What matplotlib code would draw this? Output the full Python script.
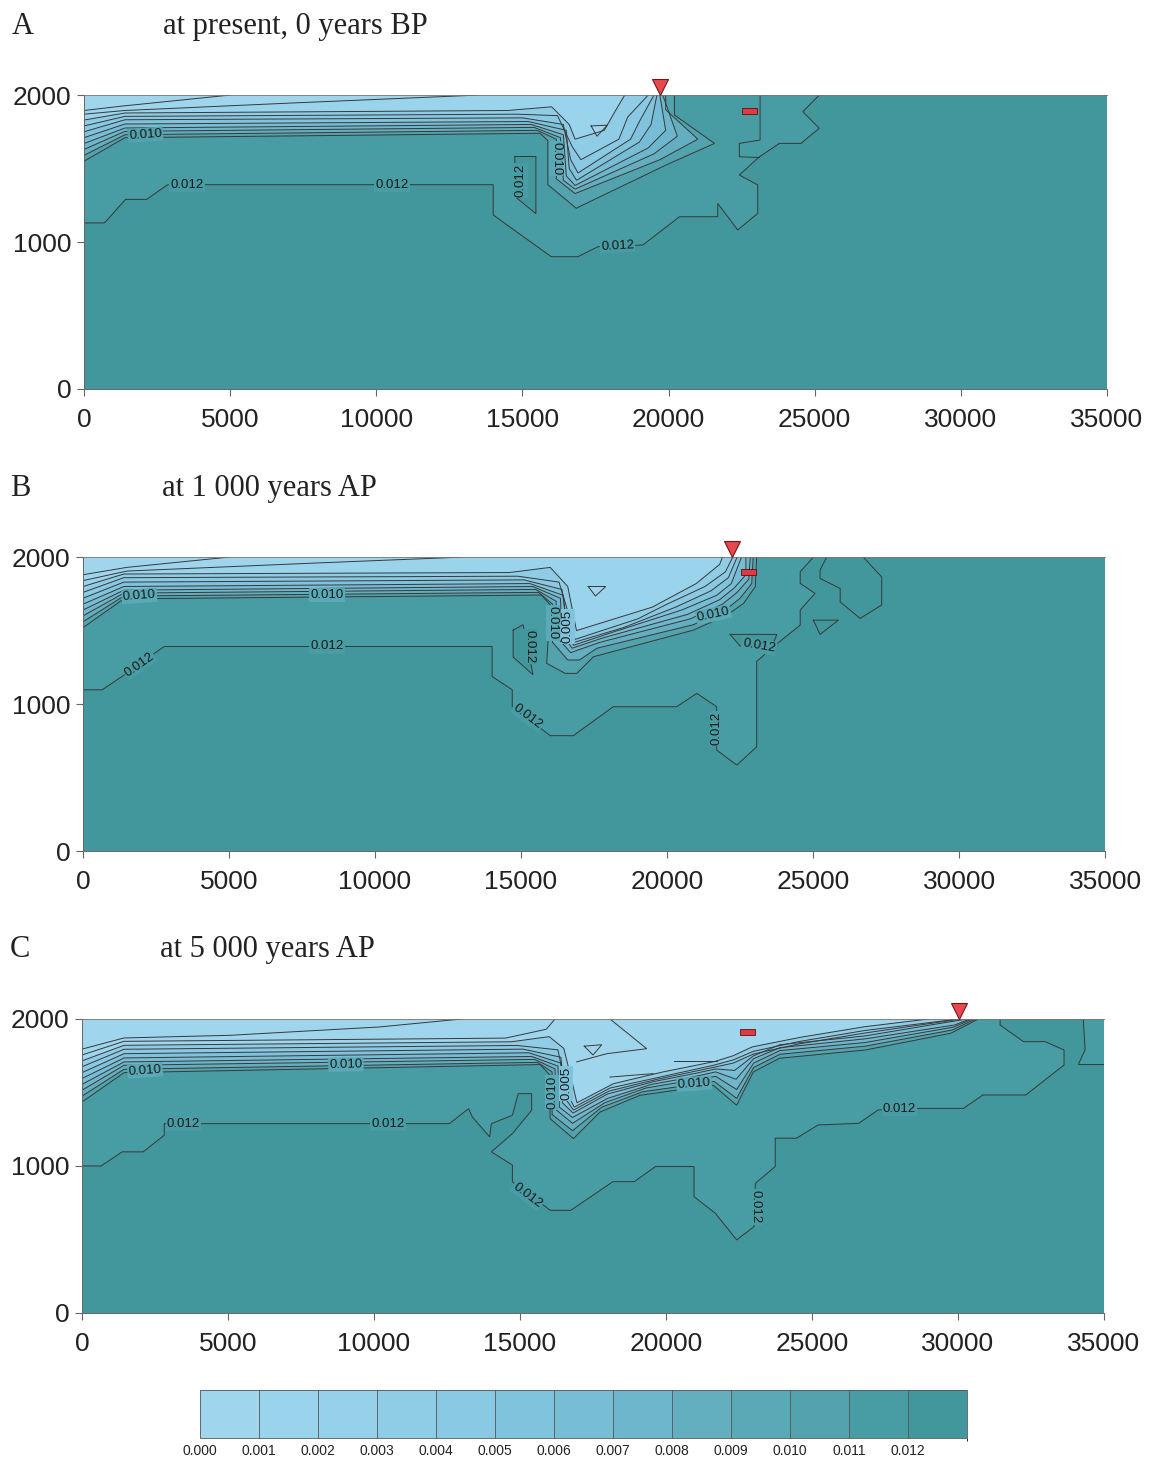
import matplotlib.pyplot as plt
from matplotlib.colors import ListedColormap, BoundaryNorm
from matplotlib.cm import ScalarMappable
from matplotlib.patches import Rectangle

plt.rcParams['font.family'] = ['Liberation Sans', 'DejaVu Sans']

# colour scale (intervals of 0.001)
cb_bounds = [0.000, 0.001, 0.002, 0.003, 0.004, 0.005, 0.006, 0.007,
             0.008, 0.009, 0.010, 0.011, 0.012, 0.013]
cb_ticks = cb_bounds[:-1]
cb_colors = ['#9fd6ee', '#9ad4ec', '#95d1ea', '#8fcde6', '#89c9e3', '#80c3dd',
             '#77bdd5', '#6db6cb', '#63afc0', '#5aa9b6', '#52a3ad', '#489ca3',
             '#41979b']

x_ticks = [0, 5000, 10000, 15000, 20000, 25000, 30000, 35000]
y_ticks = [0, 1000, 2000]

letters = ['A', 'B', 'C']
titles = ['at present, 0 years BP', 'at 1 000 years AP', 'at 5 000 years AP']

# ---------------- panel A ----------------
a_012 = [(0, 1130), (700, 1130), (1420, 1290), (2140, 1290), (2860, 1390), (14000, 1390),
         (14000, 1184), (15985, 900), (16895, 900), (17580, 968), (19120, 980),
         (20370, 1172), (21680, 1172), (21680, 1263), (22365, 1082), (23050, 1195),
         (23050, 1388), (22420, 1456), (23105, 1580), (23790, 1671), (24530, 1671),
         (25155, 1774), (24590, 1887), (25155, 2000)]
a_012_closed = [[(14740, 1582), (15460, 1582), (15460, 1193), (14740, 1310), (14740, 1582)]]
a_012_open = [[(23130, 2000), (23130, 1694), (22420, 1671), (22420, 1580), (23105, 1575)]]
a_bands = [
    [(0, 1550), (1400, 1710), (15600, 1740), (15870, 1690), (15870, 1390), (16840, 1230),
     (19910, 1524), (21570, 1671), (20200, 1864), (20200, 2000)],
    [(0, 1590), (1400, 1730), (15500, 1760), (16160, 1700), (16160, 1430), (16800, 1330),
     (19700, 1560), (21000, 1700), (19900, 1900), (19900, 2000)],
    [(0, 1630), (1400, 1753), (15400, 1780), (16300, 1710), (16400, 1420), (16800, 1360),
     (19500, 1600), (20300, 1720), (19800, 2000)],
    [(0, 1670), (1400, 1776), (15300, 1800), (16400, 1730), (16500, 1450), (16800, 1385),
     (19300, 1640), (19900, 1760), (19700, 2000)],
    [(0, 1710), (1400, 1803), (15200, 1820), (16500, 1760), (16600, 1500), (16850, 1420),
     (19000, 1680), (19400, 1800), (19600, 2000)],
    [(0, 1750), (1400, 1832), (15000, 1845), (16400, 1800), (16650, 1560), (16900, 1470),
     (18700, 1700), (19000, 1820), (19500, 2000)],
    [(0, 1790), (1400, 1855), (14800, 1870), (16200, 1860), (16700, 1650), (17000, 1560),
     (18300, 1700), (18600, 1850), (19300, 2000)],
    [(0, 1830), (1400, 1878), (14500, 1895), (16000, 1920), (16600, 1800), (16800, 1700),
     (17800, 1760), (18200, 1900), (18500, 2000)],
    [(0, 1870), (1400, 1895), (7000, 1945), (13500, 2000)],
    [(0, 1895), (1300, 1925), (5000, 2000)],
]
a_levels = [0.011, 0.009, 0.008, 0.007, 0.006, 0.005, 0.004, 0.002, 0.001, 0.001]
a_loops = [[(17350, 1790), (17900, 1795), (17550, 1720), (17350, 1790)]]
a_frags = []
a_labels = [('0.010', 2100, 1730, 4, 10), ('0.012', 3520, 1390, 0, 11),
            ('0.012', 10540, 1390, 0, 11), ('0.012', 14950, 1420, 90, 11),
            ('0.010', 16160, 1570, -90, 9), ('0.012', 18250, 975, 3, 11)]
a_tri_x = 19690
a_box = (22780, 1890)

# ---------------- panel B ----------------
b_012 = [(0, 1097), (655, 1097), (1337, 1188), (2780, 1392), (14010, 1392), (14010, 1188),
         (14700, 1097), (14700, 983), (16000, 785), (16790, 785), (18160, 982), (20330, 982),
         (21020, 1073), (21700, 982), (21700, 687), (22390, 585), (23070, 709), (23070, 1290),
         (23760, 1410), (24560, 1537), (24560, 1640), (25070, 1753), (24560, 1821),
         (24560, 1900), (25010, 2000)]
b_012_closed = [[(14730, 1503), (15070, 1540), (15410, 1200), (14730, 1320), (14730, 1503)],
                [(22160, 1474), (23760, 1474), (23590, 1385), (22500, 1395), (22160, 1474)],
                [(25010, 1571), (25870, 1571), (25240, 1474), (25010, 1571)],
                [(25470, 2000), (25240, 1912), (25240, 1855), (25930, 1786), (25930, 1695),
                 (26610, 1583), (27350, 1674), (27350, 1865), (26720, 2000)]]
b_012_open = []
b_bands = [
    [(0, 1520), (1400, 1716), (15700, 1742), (16000, 1674), (15880, 1277), (16510, 1209),
     (16910, 1209), (17480, 1322), (20900, 1503), (22050, 1605), (22620, 1685),
     (23020, 1798), (23070, 2000)],
    [(0, 1560), (1400, 1735), (15600, 1760), (16080, 1680), (16080, 1420), (16600, 1300),
     (17000, 1300), (17600, 1380), (20900, 1540), (22000, 1640), (22500, 1720),
     (22900, 1820), (22950, 2000)],
    [(0, 1600), (1400, 1755), (15500, 1780), (16200, 1700), (16250, 1450), (16700, 1350),
     (17700, 1420), (20800, 1580), (21900, 1680), (22400, 1760), (22800, 1850), (22850, 2000)],
    [(0, 1640), (1400, 1775), (15400, 1800), (16350, 1720), (16400, 1480), (16750, 1380),
     (17800, 1450), (20700, 1610), (21800, 1710), (22300, 1790), (22700, 1880), (22700, 2000)],
    [(0, 1680), (1400, 1800), (15300, 1820), (16450, 1740), (16550, 1500), (16800, 1400),
     (18000, 1480), (20500, 1640), (21700, 1740), (22200, 1820), (22550, 2000)],
    [(0, 1720), (1400, 1830), (15100, 1845), (16400, 1780), (16600, 1520), (16820, 1420),
     (18500, 1520), (20300, 1660), (21500, 1770), (22100, 1860), (22400, 2000)],
    [(0, 1760), (1400, 1860), (14900, 1870), (16300, 1830), (16650, 1600), (16850, 1440),
     (19000, 1580), (20000, 1680), (21300, 1800), (22000, 1900), (22250, 2000)],
    [(0, 1800), (1400, 1885), (14600, 1895), (16000, 1930), (16600, 1800), (16900, 1500),
     (19500, 1660), (21000, 1820), (21800, 1950), (21900, 2000)],
    [(0, 1840), (1500, 1905), (8000, 1960), (13000, 2000)],
    [(0, 1880), (1500, 1930), (5000, 2000)],
]
b_levels = [0.011, 0.009, 0.008, 0.007, 0.006, 0.005, 0.004, 0.002, 0.001, 0.001]
b_loops = [[(17300, 1800), (17900, 1800), (17550, 1735), (17300, 1800)]]
b_frags = []
b_labels = [('0.010', 1930, 1735, 4, 9), ('0.010', 8350, 1745, 0, 9),
            ('0.012', 1930, 1267, 35, 11), ('0.012', 8350, 1392, 0, 11),
            ('0.012', 15230, 915, -37, 11), ('0.012', 15300, 1390, -90, 12),
            ('0.010', 16080, 1552, -90, 9), ('0.005', 16600, 1529, 90, 5),
            ('0.010', 21590, 1610, 12, 9), ('0.012', 23150, 1395, -10, 11),
            ('0.012', 21700, 835, 90, 11)]
b_tri_x = 22230
b_box = (22780, 1900)

# ---------------- panel C ----------------
c_012 = [(0, 1000), (655, 1000), (1376, 1096), (2097, 1096), (2818, 1209), (2818, 1288),
         (12580, 1288), (13240, 1390), (13370, 1333), (13960, 1198), (14020, 1288),
         (14740, 1345), (14940, 1492), (15400, 1492), (15400, 1379), (14740, 1220),
         (14020, 1096), (14740, 1006), (14740, 893), (16040, 698), (16740, 698), (18180, 893),
         (18910, 893), (19640, 996), (20960, 996), (20960, 791), (21690, 678), (22420, 497),
         (23010, 587), (23060, 882), (23740, 996), (23740, 1189), (24470, 1189), (25210, 1279),
         (26600, 1290), (27260, 1381), (28720, 1392), (30190, 1392), (30850, 1483),
         (32320, 1483), (33630, 1687), (33630, 1789), (32980, 1846), (32240, 1846),
         (31440, 1959), (31440, 2000)]
c_side = [(34290, 2000), (34350, 1790), (34120, 1690), (35000, 1690)]
c_bands = [
    [(0, 1435), (1440, 1635), (15690, 1690), (16030, 1617), (16030, 1322), (16830, 1186),
     (17740, 1367), (19110, 1481), (20710, 1526), (21620, 1549), (22420, 1413), (22990, 1640),
     (23890, 1733), (26820, 1789), (29750, 1903), (30700, 2000)],
    [(0, 1475), (1440, 1658), (15600, 1705), (16100, 1640), (16100, 1350), (16800, 1240),
     (17800, 1400), (19200, 1505), (20800, 1550), (21650, 1575), (22420, 1460), (23000, 1670),
     (23900, 1760), (26820, 1815), (29800, 1925), (30600, 2000)],
    [(0, 1515), (1440, 1685), (15500, 1725), (16200, 1660), (16250, 1380), (16800, 1290),
     (17900, 1430), (19300, 1530), (20800, 1580), (21700, 1610), (22420, 1520), (23000, 1700),
     (23900, 1785), (26820, 1840), (29850, 1945), (30500, 2000)],
    [(0, 1555), (1440, 1708), (15400, 1745), (16300, 1680), (16350, 1400), (16800, 1330),
     (18000, 1460), (19500, 1555), (20900, 1605), (21700, 1640), (22400, 1590), (23000, 1730),
     (23900, 1805), (26820, 1865), (29900, 1960), (30400, 2000)],
    [(0, 1595), (1440, 1735), (15300, 1770), (16400, 1700), (16450, 1430), (16820, 1360),
     (18000, 1490), (19600, 1575), (21000, 1630), (21700, 1660), (22350, 1650), (23000, 1750),
     (23900, 1825), (26820, 1885), (30300, 2000)],
    [(0, 1635), (1440, 1764), (15100, 1795), (16400, 1740), (16550, 1460), (16830, 1380),
     (18050, 1510), (19700, 1590), (21600, 1670), (22300, 1700), (23000, 1762), (24590, 1832),
     (26820, 1905), (30100, 2000)],
    [(0, 1675), (1440, 1794), (14900, 1820), (16300, 1790), (16600, 1500), (16860, 1400),
     (18080, 1530), (19800, 1605), (21620, 1685), (22310, 1722), (22990, 1780), (24590, 1848),
     (26820, 1922), (30040, 2000)],
    [(0, 1715), (1440, 1821), (14700, 1845), (16000, 1880), (16500, 1800), (16750, 1600),
     (16950, 1430), (18200, 1560), (19900, 1640), (21650, 1710), (22300, 1750), (22950, 1810),
     (24590, 1875), (26820, 1948), (29000, 2000)],
    [(0, 1755), (1440, 1848), (14500, 1870), (15900, 1930), (16200, 2000)],
    [(0, 1795), (1440, 1871), (5070, 1889), (10200, 1946), (13000, 2000)],
]
c_levels = [0.011, 0.009, 0.008, 0.007, 0.006, 0.005, 0.004, 0.001, 0.001, 0.001]
c_loops = [[(17200, 1815), (17800, 1825), (17500, 1755), (17200, 1815)]]
c_frags = [[(18080, 1605), (19560, 1628)], [(20290, 1714), (21740, 1714)],
           [(18080, 2000), (19340, 1798), (17970, 1764), (16940, 1708)]]
c_labels = [('0.010', 2160, 1650, 4, 9), ('0.010', 9040, 1690, 1, 9),
            ('0.012', 3470, 1288, 0, 11), ('0.012', 10480, 1288, 0, 11),
            ('0.010', 16100, 1500, 90, 9), ('0.005', 16580, 1560, 90, 5),
            ('0.012', 15250, 800, -37, 11), ('0.010', 20960, 1560, 4, 9),
            ('0.012', 23060, 720, -90, 11), ('0.012', 27990, 1387, 0, 11)]
c_tri_x = 30020
c_box = (22790, 1910)

cmap = ListedColormap(cb_colors)
norm = BoundaryNorm(cb_bounds, cmap.N)
line_c = '#383838'


def col(level):
    # colour of the interval just below a contour level
    return cmap(norm(level - 0.0005))


def xy(pts):
    return [p[0] for p in pts], [p[1] for p in pts]


def draw_panel(ax, main, closed, opened, bands, levels, loops, frags, labels,
               tri_x, box, side=None):
    ax.set_xlim(0, 35000)
    ax.set_ylim(0, 2000)
    ax.set_facecolor(col(0.013))

    # filled areas above each open contour (closed along the top edge)
    xs, ys = xy(main + [(0, 2000)])
    ax.fill(xs, ys, color=col(0.012), lw=0)
    if side:
        xs, ys = xy(side + [(35000, 2000)])
        ax.fill(xs, ys, color=col(0.012), lw=0)
    for pts in closed:
        xs, ys = xy(pts)
        ax.fill(xs, ys, color=col(0.0125), lw=0)
    for pts, lev in zip(bands, levels):
        xs, ys = xy(pts + [(0, 2000)])
        ax.fill(xs, ys, color=col(lev), lw=0)
    for pts in loops:
        xs, ys = xy(pts)
        ax.fill(xs, ys, color=col(0.001), lw=0)

    # contour lines
    for pts in [main] + closed + opened + bands + loops + frags + ([side] if side else []):
        xs, ys = xy(pts)
        ax.plot(xs, ys, color=line_c, lw=0.7, solid_joinstyle='miter')

    for txt, x, y, rot, bg in labels:
        ax.text(x, y, txt, fontsize=9.5, color='#1a1a1a', rotation=rot,
                ha='center', va='center', rotation_mode='anchor',
                bbox=dict(boxstyle='square,pad=0.08', fc=cmap(bg), ec='none'))

    # well marker and red box
    ax.plot([tri_x], [2055], marker='v', ms=12, color='#e8474f', mec='#6b1a1a',
            mew=0.8, clip_on=False, zorder=5)
    ax.add_patch(Rectangle((box[0] - 260, box[1] - 22), 520, 44, fc='#e03a46',
                           ec='#5a1010', lw=0.6, zorder=5))

    ax.set_xticks(x_ticks)
    ax.set_yticks(y_ticks)
    ax.tick_params(direction='out', length=5, width=0.8, color='#666',
                   labelsize=19, labelcolor='#222')
    ax.tick_params(axis='x', pad=9)
    ax.tick_params(axis='y', pad=4)
    for s in ['left', 'bottom']:
        ax.spines[s].set_linewidth(0.7)
        ax.spines[s].set_color('#666')
    ax.spines['top'].set_linewidth(0.6)
    ax.spines['top'].set_color('#777')
    ax.spines['right'].set_visible(False)


fig = plt.figure(figsize=(11.51, 14.58), dpi=100)

ax_a = fig.add_axes([0.0730, 0.7332, 0.8888, 0.2016])
ax_b = fig.add_axes([0.0721, 0.4163, 0.8880, 0.2016])
ax_c = fig.add_axes([0.0712, 0.0995, 0.8880, 0.2016])

draw_panel(ax_a, a_012, a_012_closed, a_012_open, a_bands, a_levels, a_loops, a_frags,
           a_labels, a_tri_x, a_box)
draw_panel(ax_b, b_012, b_012_closed, b_012_open, b_bands, b_levels, b_loops, b_frags,
           b_labels, b_tri_x, b_box)
draw_panel(ax_c, c_012, [], [], c_bands, c_levels, c_loops, c_frags,
           c_labels, c_tri_x, c_box, side=c_side)

serif = ['Liberation Serif', 'DejaVu Serif']
for letter, title, yy, xl, xt in zip(letters, titles, [0.982, 0.665, 0.349],
                                     [0.0104, 0.0087, 0.0087], [0.1416, 0.1407, 0.139]):
    fig.text(xl, yy, letter, fontsize=22, family=serif, color='#222', va='center')
    fig.text(xt, yy, title, fontsize=22, family=serif, color='#222', va='center')

cax = fig.add_axes([0.1738, 0.0137, 0.6664, 0.0329])
sm = ScalarMappable(norm=norm, cmap=cmap)
cb = fig.colorbar(sm, cax=cax, orientation='horizontal', boundaries=cb_bounds,
                  ticks=cb_ticks, drawedges=True)
cb.set_ticklabels(['%.3f' % t for t in cb_ticks])
cb.ax.tick_params(length=0, labelsize=10, pad=4, labelcolor='#222')
cb.outline.set_linewidth(0.6)
cb.outline.set_edgecolor('#555')
cb.dividers.set_linewidth(0.6)
cb.dividers.set_color('#555')

fig.savefig('out.png', dpi=100)
